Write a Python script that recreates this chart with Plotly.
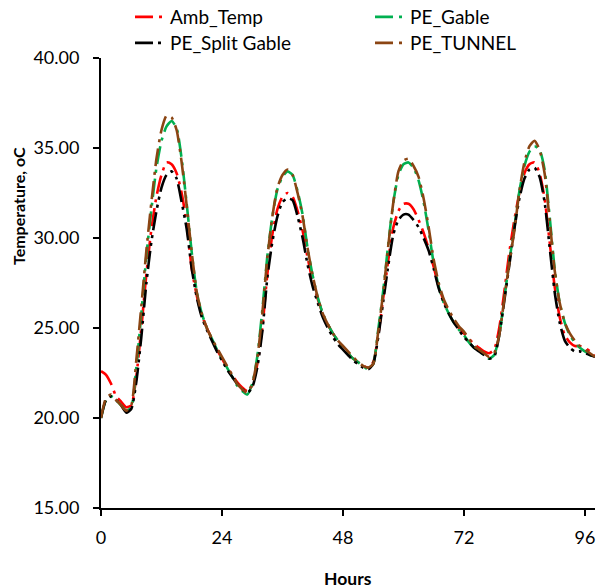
import plotly.graph_objects as go

# Hourly greenhouse air temperatures over four days
hours = list(range(0, 99))

amb_temp = [22.6, 22.4, 21.9, 21.2, 20.9, 20.6, 20.7, 22.3, 25.0, 28.0,
            30.5, 32.3, 33.5, 34.2, 34.1, 33.6, 32.5, 30.8, 28.3, 26.8,
            25.7, 25.0, 24.4, 23.8, 23.3, 22.8, 22.4, 22.0, 21.7, 21.5,
            21.8, 23.0, 25.0, 28.0, 30.2, 31.6, 32.3, 32.5, 32.3, 31.5,
            30.4, 28.9, 27.6, 26.6, 25.8, 25.2, 24.7, 24.3, 23.9, 23.6,
            23.3, 23.1, 22.9, 22.8, 23.1, 24.6, 26.7, 28.8, 30.6, 31.5,
            31.9, 31.9, 31.6, 31.0, 30.3, 29.4, 28.4, 27.3, 26.5, 25.9,
            25.4, 25.0, 24.7, 24.4, 24.1, 23.9, 23.7, 23.6, 23.8, 25.0,
            27.0, 29.2, 31.0, 32.5, 33.6, 34.1, 34.2, 33.6, 32.2, 29.8,
            27.3, 25.6, 24.6, 24.2, 24.0, 24.0, 23.9, 23.7, 23.4]

pe_gable = [20.0, 21.0, 21.2, 21.0, 20.7, 20.4, 20.6, 22.8, 25.8, 29.0,
            31.6, 33.9, 35.4, 36.2, 36.5, 36.1, 34.4, 31.9, 29.2, 27.0,
            25.8, 25.0, 24.4, 23.8, 23.3, 22.8, 22.3, 21.8, 21.5, 21.3,
            21.9, 23.4, 26.0, 29.0, 31.2, 32.7, 33.4, 33.7, 33.5, 32.6,
            31.3, 29.4, 27.9, 26.7, 25.8, 25.2, 24.7, 24.3, 23.9, 23.6,
            23.3, 23.1, 22.9, 22.7, 23.0, 24.9, 27.1, 29.7, 32.0, 33.5,
            34.1, 34.2, 33.9, 33.2, 32.0, 30.4, 28.6, 27.3, 26.4, 25.8,
            25.3, 24.9, 24.6, 24.2, 23.9, 23.7, 23.5, 23.3, 23.5, 24.6,
            26.6, 28.7, 30.6, 32.6, 34.0, 34.8, 35.1, 34.9, 33.8, 31.2,
            28.3, 26.4, 25.3, 24.6, 24.2, 23.9, 23.7, 23.5, 23.4]

pe_split_gable = [20.0, 21.0, 21.2, 21.0, 20.7, 20.3, 20.5, 22.0, 24.5, 27.5,
                  29.8, 31.5, 32.8, 33.5, 33.7, 33.3, 32.0, 30.5, 28.3, 26.7,
                  25.6, 24.9, 24.3, 23.7, 23.2, 22.7, 22.3, 21.9, 21.6, 21.4,
                  21.7, 22.8, 24.8, 27.8, 29.8, 31.2, 32.0, 32.2, 32.1, 31.2,
                  30.0, 28.5, 27.3, 26.4, 25.6, 25.0, 24.5, 24.1, 23.8, 23.5,
                  23.2, 23.0, 22.8, 22.7, 23.0, 24.5, 26.5, 28.5, 30.2, 31.0,
                  31.3, 31.3, 31.0, 30.6, 30.0, 29.3, 28.3, 27.2, 26.4, 25.8,
                  25.3, 24.9, 24.5, 24.2, 23.9, 23.7, 23.5, 23.3, 23.4, 24.6,
                  26.5, 28.5, 30.5, 32.2, 33.3, 33.8, 33.9, 33.4, 32.0, 29.5,
                  27.0, 25.3, 24.3, 23.9, 23.7, 23.7, 23.6, 23.5, 23.4]

pe_tunnel = [20.0, 21.1, 21.3, 21.0, 20.7, 20.4, 20.7, 23.2, 26.2, 29.3,
             32.0, 34.4, 36.0, 36.8, 36.7, 36.0, 34.2, 31.8, 29.2, 27.0,
             25.8, 25.0, 24.4, 23.9, 23.4, 22.9, 22.4, 21.9, 21.6, 21.4,
             21.9, 23.3, 25.8, 28.9, 31.2, 32.8, 33.5, 33.8, 33.5, 32.5,
             31.2, 29.4, 27.9, 26.7, 25.8, 25.2, 24.7, 24.3, 24.0, 23.7,
             23.4, 23.1, 22.9, 22.8, 23.0, 24.8, 27.0, 29.6, 32.0, 33.7,
             34.3, 34.4, 34.0, 33.4, 32.2, 30.6, 28.8, 27.5, 26.6, 26.0,
             25.5, 25.1, 24.8, 24.4, 24.0, 23.8, 23.6, 23.4, 23.6, 24.6,
             26.6, 28.6, 30.4, 32.6, 34.2, 35.1, 35.4, 34.9, 33.6, 31.0,
             28.2, 26.4, 25.3, 24.7, 24.3, 24.0, 23.8, 23.6, 23.4]

x_ticks = [0, 24, 48, 72, 96]
y_ticks = [15, 20, 25, 30, 35, 40]

FONT = "Lato"
W, H = 597, 588

series = [
    ("Amb_Temp", amb_temp, "#FF0000", "18px,6px,3px,6px", "legend", 170, 17),
    ("PE_Gable", pe_gable, "#00B050", "18px,6px,3px,6px", "legend2", 410, 17),
    ("PE_Split Gable", pe_split_gable, "#000000", "18px,5px,3px,5px,3px,5px", "legend3", 170, 43),
    ("PE_TUNNEL", pe_tunnel, "#8B4513", "18px,6px,3px,6px", "legend4", 410, 43),
]

fig = go.Figure()
legend_layouts = {}
for name, vals, color, dash, leg, tx, ty in series:
    fig.add_trace(go.Scatter(
        x=hours, y=vals, name=name, mode="lines",
        line=dict(color=color, width=2.6, dash=dash, shape="spline", smoothing=0.6),
        legend=leg,
    ))
    legend_layouts[leg] = dict(
        xref="container", yref="container",
        x=(tx - 40) / W, y=1 - ty / H,
        xanchor="left", yanchor="middle",
        bgcolor="rgba(0,0,0,0)", borderwidth=0,
        font=dict(family=FONT, size=19, color="#000000"),
    )

fig.update_layout(
    width=W, height=H,
    margin=dict(l=101, r=2, t=58, b=80, autoexpand=False),
    paper_bgcolor="white", plot_bgcolor="white",
    font=dict(family=FONT, color="#000000"),
    showlegend=True,
    **legend_layouts,
)

fig.update_xaxes(
    range=[0, 98], tickvals=x_ticks, ticktext=[str(v) for v in x_ticks],
    tickangle=0,
    showgrid=False, zeroline=False, showline=True, linecolor="#000000", linewidth=2,
    ticks="outside", ticklen=6, tickwidth=2, tickcolor="#000000",
    tickfont=dict(family=FONT, size=18), ticklabelstandoff=6,
)
fig.update_yaxes(
    range=[15, 40], tickvals=y_ticks, tickformat=".2f",
    showgrid=False, zeroline=False, showline=True, linecolor="#000000", linewidth=2,
    ticks="outside", ticklen=6, tickwidth=2, tickcolor="#000000",
    tickfont=dict(family=FONT, size=18), ticklabelstandoff=10,
)

# Axis titles placed in page coordinates
fig.add_annotation(text="<b>Hours</b>", xref="paper", yref="paper",
                   x=0.5, y=-(578 - 508) / 450, xanchor="center", yanchor="middle",
                   showarrow=False, font=dict(family=FONT, size=17.5, color="#000000"))
fig.add_annotation(text="<b>Temperature, oC</b>", xref="paper", yref="paper",
                   x=-(101 - 18) / 494, y=(508 - 206) / 450, xanchor="center", yanchor="middle",
                   textangle=-90, showarrow=False,
                   font=dict(family=FONT, size=16, color="#000000"))

fig.write_html("out.html")
